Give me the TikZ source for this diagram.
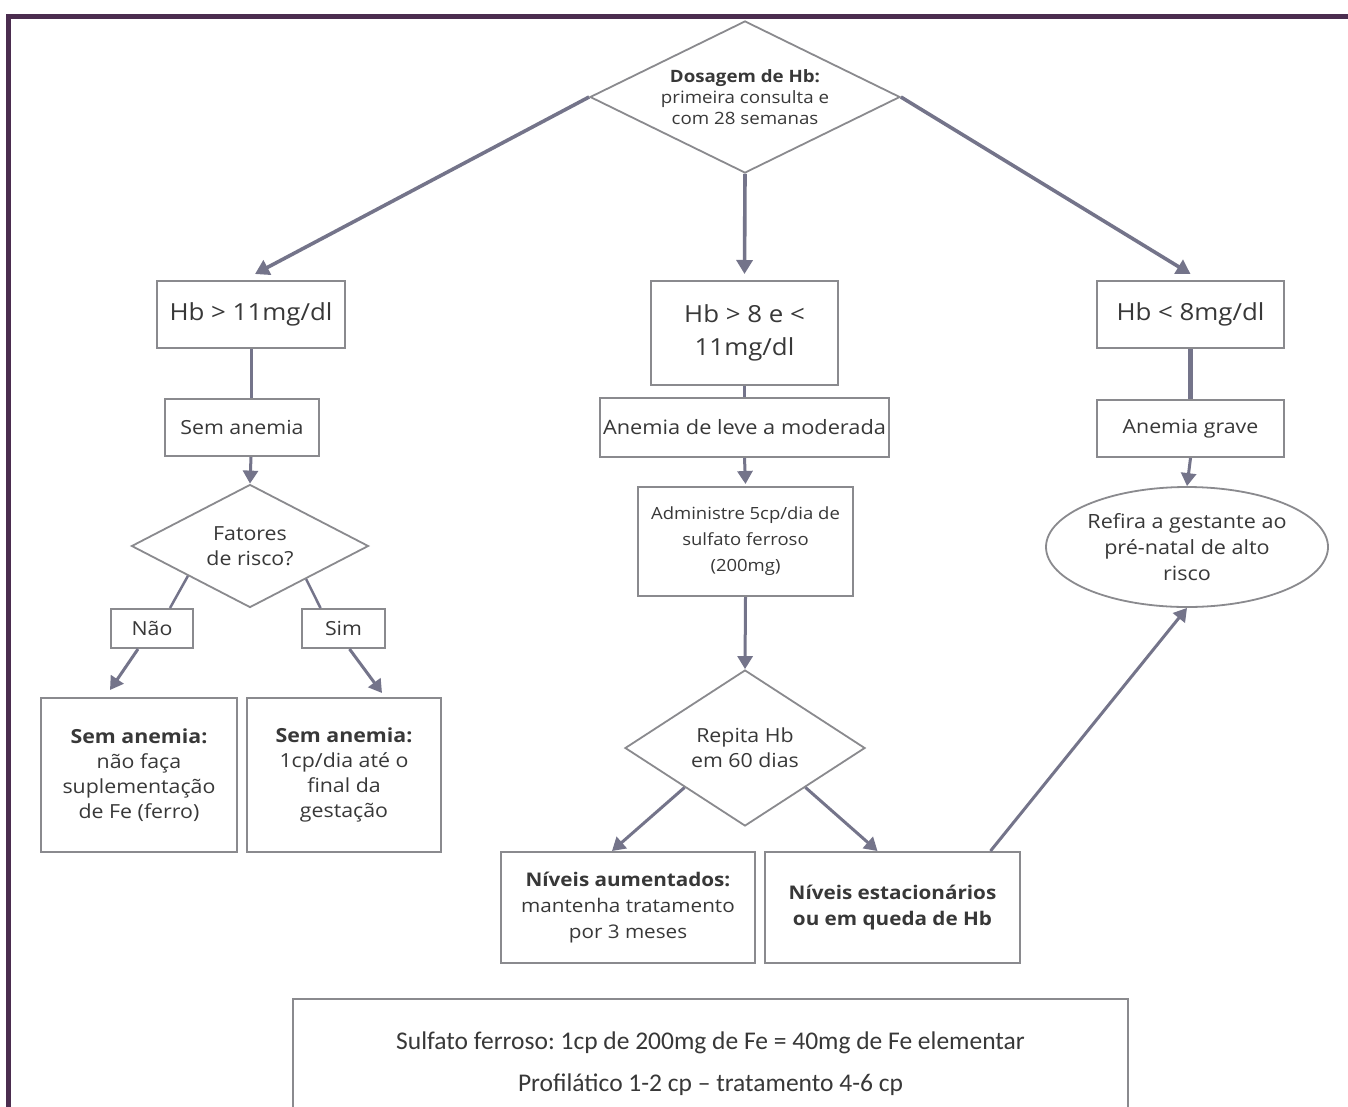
\documentclass[tikz,border=0pt]{standalone}
\usepackage{fontspec}
\setmainfont{Open Sans}[FakeStretch=1.1]
\newfontfamily\calfont{Carlito}
\usetikzlibrary{shapes.geometric,arrows.meta,calc}
\definecolor{framec}{HTML}{4B2D4F}
\definecolor{edgec}{HTML}{8A8A8E}
\definecolor{connc}{HTML}{74748A}
\definecolor{inkc}{HTML}{383838}
\frenchspacing
\begin{document}
\begin{tikzpicture}[x=1pt,y=-1pt,
  box/.style={draw=edgec,line width=2pt,rectangle,inner sep=0pt,align=center,text=inkc,font=\fontsize{19.4}{25}\selectfont},
  dia/.style={draw=edgec,line width=1.8pt,diamond,inner sep=0pt,align=center,text=inkc,font=\fontsize{19.4}{25}\selectfont},
  link/.style={draw=connc,line width=3pt},
  arr/.style={link,-{Triangle[width=15pt,length=13pt]}},
  bigarr/.style={draw=connc,line width=3.6pt,-{Triangle[width=16pt,length=14pt]}}]
\useasboundingbox (0,0) rectangle (1348,1106);
\clip (0,0) rectangle (1348,1106);
\fill[white] (0,0) rectangle (1348,1106);
\draw[framec,line width=5pt] (8,1110) -- (8,16) -- (1352,16);

% top decision
\node[dia,shape aspect=2.04,minimum width=310pt,minimum height=152pt,font=\fontsize{17}{21}\selectfont] (top) at (745,97)
  {\textbf{Dosagem de Hb:}\\primeira consulta e\\com 28 semanas};

% level 1 boxes
\node[box,minimum width=188pt,minimum height=67pt,font=\fontsize{23.5}{33}\selectfont] (hb1) at (251,314.5) {Hb > 11mg/dl};
\node[box,minimum width=187pt,minimum height=104pt,font=\fontsize{23.5}{33}\selectfont] (hb2) at (744.5,333) {Hb > 8 e <\\11mg/dl};
\node[box,minimum width=187pt,minimum height=67pt,font=\fontsize{23.5}{33}\selectfont] (hb3) at (1190.5,314.5) {Hb < 8mg/dl};

% left branch
\node[box,minimum width=154pt,minimum height=57pt] (sem) at (242,427.5) {Sem anemia};
\node[dia,shape aspect=1.93,minimum width=237pt,minimum height=123pt] (fat) at (250,546) {Fatores\\de risco?};
\node[box,minimum width=82pt,minimum height=39pt] (nao) at (152,628.5) {Não};
\node[box,minimum width=83pt,minimum height=39pt] (sim) at (343.5,628.5) {Sim};
\node[box,minimum width=196pt,minimum height=154pt] (ld) at (139,775)
  {\textbf{Sem anemia:}\\não faça\\suplementação\\de Fe (ferro)};
\node[box,minimum width=194pt,minimum height=154pt] (rd) at (344,775)
  {\textbf{Sem anemia:}\\1cp/dia até o\\final da\\gestação};

% middle branch
\node[box,minimum width=289pt,minimum height=59pt,font=\fontsize{19.8}{25}\selectfont] (anm) at (744.5,427.5) {Anemia de leve a moderada};
\node[box,minimum width=215pt,minimum height=109pt,font=\fontsize{16.8}{26}\selectfont] (adm) at (745.5,541.5)
  {Administre 5cp/dia de\\sulfato ferroso\\(200mg)};
\node[dia,shape aspect=1.54,minimum width=240pt,minimum height=156pt] (rep) at (745,748) {Repita Hb\\em 60 dias};
\node[box,minimum width=254pt,minimum height=111pt,font=\fontsize{18.8}{26}\selectfont] (niv1) at (628,907.5)
  {\textbf{Níveis aumentados:}\\mantenha tratamento\\por 3 meses};
\node[box,minimum width=255pt,minimum height=111pt,font=\fontsize{18.8}{26}\selectfont] (niv2) at (892.5,907.5)
  {\textbf{Níveis estacionários}\\\textbf{ou em queda de Hb}};

% right branch
\node[box,minimum width=187pt,minimum height=57pt] (grv) at (1190.5,428.5) {Anemia grave};
\node[draw=edgec,line width=1.8pt,ellipse,inner sep=0pt,minimum width=282pt,minimum height=120pt,
      align=center,text=inkc,font=\fontsize{19.6}{26}\selectfont] (ell) at (1187,547)
  {Refira a gestante ao\\pré-natal de alto\\risco};

% note box
\node[box,minimum width=835pt,minimum height=129pt,font=\calfont\fontsize{25.5}{42}\selectfont] (note) at (710.5,1063.5)
  {Sulfato ferroso: 1cp de 200mg de Fe = 40mg de Fe elementar\\Profilático 1-2 cp – tratamento 4-6 cp};

% connectors from top
\draw[bigarr] (top.west) -- ($(hb1.north)+(4,-6)$);
\draw[bigarr] (top.south) -- ($(hb2.north)+(0,-6)$);
\draw[bigarr] (top.east) -- ($(hb3.north)+(0,-6)$);

% left branch connectors
\draw[link] (hb1.south) -- (hb1.south |- sem.north);
\draw[arr] (sem.south -| hb1.south) -- (fat.north);
\draw[link,line width=2.5pt] ($(fat.west)!0.48!(fat.south)$) -- ($(nao.north)+(18,0)$);
\draw[arr] ($(nao.south)+(-14,0)$) -- ($(ld.north)+(-29,-7)$);
\draw[link,line width=2.5pt] ($(fat.south)!0.47!(fat.east)$) -- ($(sim.north)+(-23,0)$);
\draw[arr] ($(sim.south)+(6,0)$) -- ($(rd.north)+(38,-4)$);

% middle branch connectors
\draw[link] (hb2.south) -- (anm.north -| hb2.south);
\draw[arr] (anm.south) -- ($(adm.north)+(0,-2)$);
\draw[arr] (adm.south) -- (rep.north);
\draw[arr] ($(rep.west)!0.5!(rep.south)$) -- ($(niv1.north)+(-16,0)$);
\draw[arr] ($(rep.south)!0.5!(rep.east)$) -- ($(niv2.north)+(-15,0)$);
\draw[arr] ($(niv2.north)+(98,0)$) -- (ell.south);

% right branch connectors
\draw[link,line width=4.5pt] (hb3.south) -- (grv.north);
\draw[arr] (grv.south) -- (ell.north);
\end{tikzpicture}
\end{document}
